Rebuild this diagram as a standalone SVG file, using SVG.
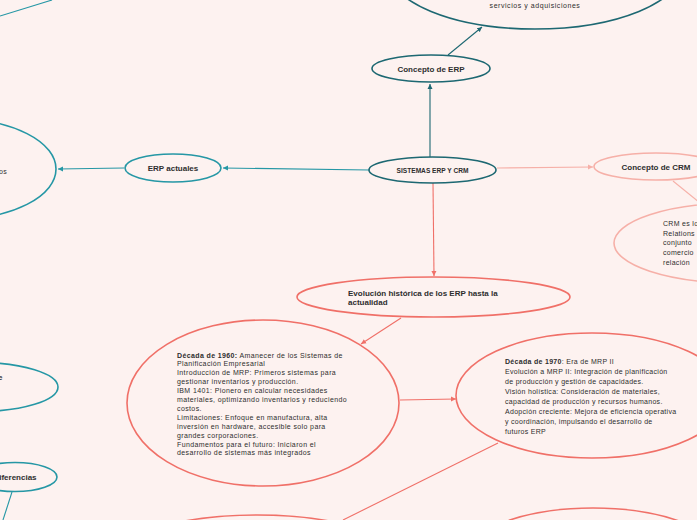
<svg xmlns="http://www.w3.org/2000/svg" width="697" height="520" viewBox="0 0 697 520">
<style>
text{font-family:"Liberation Sans",Arial,sans-serif;fill:#2e2e2e}
.t{font-size:8px;font-weight:bold}
.b{font-size:7px}
.bb{font-weight:bold}
.e{fill:none;stroke-width:1.6}
.dk{stroke:#1d6872}
.lt{stroke:#2597a5}
.pk{stroke:#f6b0a8}
.rd{stroke:#f07068}
.c{fill:none;stroke-width:1.1}
</style>
<defs>
<marker id="adk" markerUnits="userSpaceOnUse" markerWidth="6" markerHeight="6" refX="5" refY="3" orient="auto"><path d="M0,0.5 L5,3 L0,5.5 z" fill="#1d6872"/></marker>
<marker id="alt" markerUnits="userSpaceOnUse" markerWidth="6" markerHeight="6" refX="5" refY="3" orient="auto"><path d="M0,0.5 L5,3 L0,5.5 z" fill="#2597a5"/></marker>
<marker id="apk" markerUnits="userSpaceOnUse" markerWidth="6" markerHeight="6" refX="5" refY="3" orient="auto"><path d="M0,0.5 L5,3 L0,5.5 z" fill="#f6b0a8"/></marker>
<marker id="ard" markerUnits="userSpaceOnUse" markerWidth="6" markerHeight="6" refX="5" refY="3" orient="auto"><path d="M0,0.5 L5,3 L0,5.5 z" fill="#f07068"/></marker>
</defs>
<rect width="697" height="520" fill="#fdf2f0"/>
<g id="connectors">
<line class="c lt" x1="0" y1="16" x2="52" y2="0"/>
<line class="c dk" x1="430" y1="157" x2="430" y2="84" marker-end="url(#adk)"/>
<line class="c dk" x1="448" y1="55" x2="482" y2="27" marker-end="url(#adk)"/>
<line class="c lt" x1="369" y1="170" x2="223" y2="168" marker-end="url(#alt)"/>
<line class="c lt" x1="124" y1="168" x2="58" y2="169" marker-end="url(#alt)"/>
<line class="c pk" x1="497" y1="168" x2="593" y2="167" marker-end="url(#apk)"/>
<line class="c pk" x1="673" y1="181" x2="700" y2="203"/>
<line class="c rd" x1="433" y1="183" x2="434" y2="276" marker-end="url(#ard)"/>
<line class="c rd" x1="401" y1="318" x2="361" y2="344" marker-end="url(#ard)"/>
<line class="c rd" x1="400" y1="400" x2="456" y2="399" marker-end="url(#ard)"/>
<line class="c rd" x1="498" y1="443" x2="343" y2="520"/>
<line class="c lt" x1="12" y1="492" x2="3" y2="520"/>
</g>
<g id="erp-desc">
<ellipse class="e dk" cx="535" cy="-31" rx="147" ry="60"/>
<text class="b" x="535" y="8" text-anchor="middle" letter-spacing="0.55">servicios y adquisiciones</text>
</g>
<g id="concepto-erp">
<ellipse class="e dk" cx="431" cy="68.5" rx="59" ry="13.5"/>
<text class="t" x="431" y="71.5" text-anchor="middle">Concepto de ERP</text>
</g>
<g id="sistemas">
<ellipse class="e dk" cx="432.5" cy="170" rx="63.5" ry="13"/>
<text x="432.5" y="172.5" text-anchor="middle" font-size="6.6" font-weight="bold">SISTEMAS ERP Y CRM</text>
</g>
<g id="erp-actuales">
<ellipse class="e lt" cx="173" cy="168" rx="48" ry="14"/>
<text class="t" x="173" y="171" text-anchor="middle">ERP actuales</text>
</g>
<g id="erp-actuales-desc">
<ellipse class="e lt" cx="-43" cy="169" rx="99" ry="50"/>
<text class="b" x="-1" y="174" letter-spacing="0.4">os</text>
</g>
<g id="left-node">
<ellipse class="e lt" cx="-22" cy="387" rx="80" ry="24.5"/>
<text class="t" x="-2" y="380">e</text>
</g>
<g id="diferencias">
<ellipse class="e lt" cx="15" cy="477" rx="42" ry="14.5"/>
<text class="t" x="15" y="480" text-anchor="middle">Diferencias</text>
</g>
<g id="concepto-crm">
<ellipse class="e pk" cx="656" cy="166.5" rx="62" ry="13.5"/>
<text class="t" x="656" y="169.5" text-anchor="middle">Concepto de CRM</text>
</g>
<g id="crm-desc">
<ellipse class="e pk" cx="736" cy="243" rx="122" ry="40"/>
<text class="b" font-size="8" letter-spacing="0.3"><tspan x="663" y="225.8">CRM es lo</tspan><tspan x="663" y="235.6">Relations</tspan><tspan x="663" y="245.3">conjunto</tspan><tspan x="663" y="255">comercio</tspan><tspan x="663" y="264.8">relación</tspan></text>
</g>
<g id="evolucion">
<ellipse class="e rd" cx="433.5" cy="297" rx="136.5" ry="20"/>
<text class="t"><tspan x="348" y="295.5">Evolución histórica de los ERP hasta la</tspan><tspan x="348" y="305">actualidad</tspan></text>
</g>
<g id="decada-1960">
<ellipse class="e rd" cx="263" cy="403" rx="136" ry="83"/>
<text class="b" font-size="7.4" letter-spacing="0.38">
<tspan x="177" y="357.5"><tspan class="bb">Década de 1960:</tspan> Amanecer de los Sistemas de</tspan>
<tspan x="177" y="366.4">Planificación Empresarial</tspan>
<tspan x="177" y="375.3">Introducción de MRP: Primeros sistemas para</tspan>
<tspan x="177" y="384.2">gestionar inventarios y producción.</tspan>
<tspan x="177" y="393.1">IBM 1401: Pionero en calcular necesidades</tspan>
<tspan x="177" y="402">materiales, optimizando inventarios y reduciendo</tspan>
<tspan x="177" y="410.9">costos.</tspan>
<tspan x="177" y="419.8">Limitaciones: Enfoque en manufactura, alta</tspan>
<tspan x="177" y="428.7">inversión en hardware, accesible solo para</tspan>
<tspan x="177" y="437.6">grandes corporaciones.</tspan>
<tspan x="177" y="446.5">Fundamentos para el futuro: Iniciaron el</tspan>
<tspan x="177" y="455.4">desarrollo de sistemas más integrados</tspan>
</text>
</g>
<g id="decada-1970">
<ellipse class="e rd" cx="592" cy="395.5" rx="136" ry="62.5"/>
<text class="b" letter-spacing="0.3">
<tspan x="505" y="364.2"><tspan class="bb">Década de 1970</tspan>: Era de MRP II</tspan>
<tspan x="505" y="374.2">Evolución a MRP II: Integración de planificación</tspan>
<tspan x="505" y="384.2">de producción y gestión de capacidades.</tspan>
<tspan x="505" y="394.2">Visión holística: Consideración de materiales,</tspan>
<tspan x="505" y="404.2">capacidad de producción y recursos humanos.</tspan>
<tspan x="505" y="414.2">Adopción creciente: Mejora de eficiencia operativa</tspan>
<tspan x="505" y="424.2">y coordinación, impulsando el desarrollo de</tspan>
<tspan x="505" y="434.2">futuros ERP</tspan>
</text>
</g>
<g id="bottom-left">
<ellipse class="e rd" cx="257" cy="565" rx="150" ry="50"/>
</g>
<g id="bottom-right">
<ellipse class="e rd" cx="593" cy="563" rx="133" ry="55"/>
</g>
</svg>
